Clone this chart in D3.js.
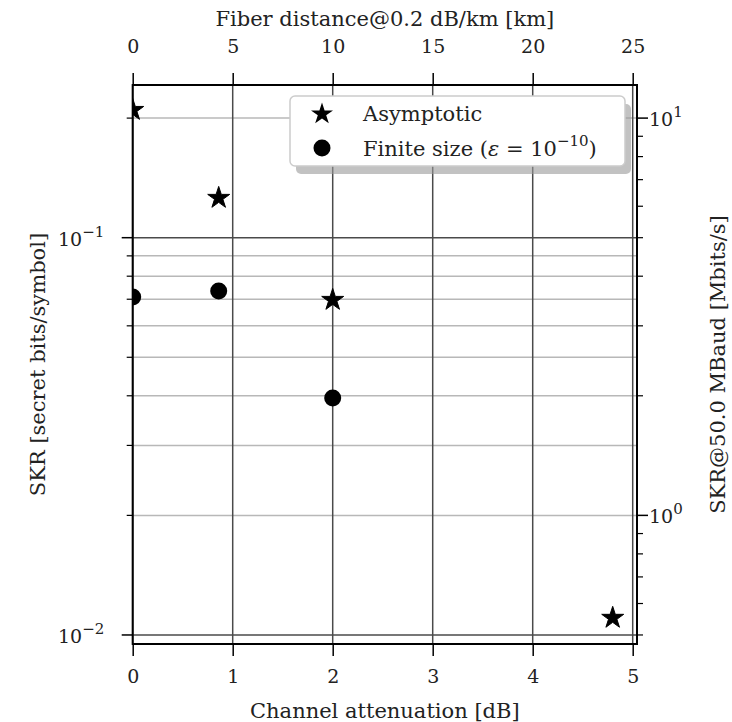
<!DOCTYPE html>
<html>
<head>
<meta charset="utf-8">
<script src="https://cdn.jsdelivr.net/npm/d3@7"></script>
<style>
  body { margin: 0; background: #fff; }
  text { font-family: "DejaVu Serif", serif; fill: #222; }
</style>
</head>
<body>
<div id="chart"></div>
<script>
// attenuation in dB, SKR in secret bits/symbol
const asymAtt = [0, 0.86, 2.0, 4.80];
const asymSkr = [0.2096, 0.1259, 0.0697, 0.01104];
const finiteAtt = [0, 0.86, 2.0];
const finiteSkr = [0.0709, 0.0734, 0.0395];

const xTicks = [0, 1, 2, 3, 4, 5];
const topTicks = [0, 5, 10, 15, 20, 25];
const leftMajor = [0.01, 0.1];
const leftMinor = [0.02, 0.03, 0.04, 0.05, 0.06, 0.07, 0.08, 0.09, 0.2];
const rightMajor = [1, 10];
const rightMinor = [0.5, 0.6, 0.7, 0.8, 0.9, 2, 3, 4, 5, 6, 7, 8, 9];

const baud = 50.0;      // MBaud
const dbPerKm = 0.2;

const W = 732, H = 722;
const pL = 132.7, pR = 637, pT = 85, pB = 644;
const yLo = 0.00949, yHi = 0.2423;

const svg = d3.select("#chart").append("svg")
    .attr("width", W).attr("height", H);

svg.append("rect").attr("width", W).attr("height", H).attr("fill", "#fff");

const x = d3.scaleLinear().domain([0, 5.043]).range([pL, pR]);
const xTop = d3.scaleLinear().domain([0, 5.043 / dbPerKm]).range([pL, pR]);
const y = d3.scaleLog().domain([yLo, yHi]).range([pB, pT]);
const yR = d3.scaleLog().domain([yLo * baud, yHi * baud]).range([pB, pT]);

svg.append("defs").append("clipPath").attr("id", "plotclip")
  .append("rect")
    .attr("x", pL).attr("y", pT)
    .attr("width", pR - pL).attr("height", pB - pT);

// grid
const grid = svg.append("g");
grid.selectAll(".hmin").data(leftMinor).enter().append("line")
    .attr("x1", pL).attr("x2", pR)
    .attr("y1", d => y(d)).attr("y2", d => y(d))
    .attr("stroke", "#b8b8b8").attr("stroke-width", 1.5);
grid.selectAll(".hmaj").data(leftMajor).enter().append("line")
    .attr("x1", pL).attr("x2", pR)
    .attr("y1", d => y(d)).attr("y2", d => y(d))
    .attr("stroke", "#4a4a4a").attr("stroke-width", 1.5);
grid.selectAll(".v").data(xTicks).enter().append("line")
    .attr("x1", d => x(d)).attr("x2", d => x(d))
    .attr("y1", pT).attr("y2", pB)
    .attr("stroke", "#4a4a4a").attr("stroke-width", 1.5);

// markers
const star = d3.symbol().type(d3.symbolStar).size(150);
const marks = svg.append("g").attr("clip-path", "url(#plotclip)");
marks.selectAll(".fin").data(finiteAtt).enter().append("circle")
    .attr("cx", d => x(d))
    .attr("cy", (d, i) => y(finiteSkr[i]))
    .attr("r", 8.5).attr("fill", "#000");
marks.selectAll(".asy").data(asymAtt).enter().append("path")
    .attr("d", star)
    .attr("transform", (d, i) => `translate(${x(d)},${y(asymSkr[i])})`)
    .attr("fill", "#000").attr("stroke", "#000").attr("stroke-width", 1);

// axes
const fmtTick = g => {
  g.select(".domain").remove();
  g.selectAll("line").attr("stroke", "#000").attr("stroke-width", 1.5);
  g.selectAll("text").style("font-family", "DejaVu Serif").style("font-size", "19px").attr("fill", "#222");
};

svg.append("g")
    .attr("transform", `translate(0,${pB})`)
    .call(d3.axisBottom(x).tickValues(xTicks).tickFormat(d3.format("d")).tickSize(12).tickPadding(14))
    .call(fmtTick);

svg.append("g")
    .attr("transform", `translate(0,${pT})`)
    .call(d3.axisTop(xTop).tickValues(topTicks).tickFormat(d3.format("d")).tickSize(12).tickPadding(20))
    .call(fmtTick);

// 10^n labels
const sup = (sel, base, ex) => {
  sel.text(base);
  sel.append("tspan").attr("dy", -9).style("font-size", "15px").text(ex);
};

const yl = svg.append("g");
yl.selectAll(".mn").data(leftMinor).enter().append("line")
    .attr("x1", pL - 6).attr("x2", pL)
    .attr("y1", d => y(d)).attr("y2", d => y(d))
    .attr("stroke", "#000").attr("stroke-width", 1.2);
yl.selectAll(".mj").data(leftMajor).enter().append("line")
    .attr("x1", pL - 11).attr("x2", pL)
    .attr("y1", d => y(d)).attr("y2", d => y(d))
    .attr("stroke", "#000").attr("stroke-width", 1.5);
yl.selectAll(".lb").data(leftMajor).enter().append("text")
    .attr("x", 58).attr("y", d => y(d) + 8)
    .style("font-size", "19px")
    .each(function(d) { sup(d3.select(this), "10", "\u2212" + (-Math.round(Math.log10(d)))); });

const yr = svg.append("g");
yr.selectAll(".mn").data(rightMinor).enter().append("line")
    .attr("x1", pR).attr("x2", pR + 6)
    .attr("y1", d => yR(d)).attr("y2", d => yR(d))
    .attr("stroke", "#000").attr("stroke-width", 1.2);
yr.selectAll(".mj").data(rightMajor).enter().append("line")
    .attr("x1", pR).attr("x2", pR + 11)
    .attr("y1", d => yR(d)).attr("y2", d => yR(d))
    .attr("stroke", "#000").attr("stroke-width", 1.5);
yr.selectAll(".lb").data(rightMajor).enter().append("text")
    .attr("x", pR + 12).attr("y", d => yR(d) + 8)
    .style("font-size", "19px")
    .each(function(d) { sup(d3.select(this), "10", String(Math.round(Math.log10(d)))); });

// spines
svg.append("rect")
    .attr("x", pL).attr("y", pT)
    .attr("width", pR - pL).attr("height", pB - pT)
    .attr("fill", "none").attr("stroke", "#000").attr("stroke-width", 2);

// legend
const lg = svg.append("g");
lg.append("rect")
    .attr("x", 296).attr("y", 104).attr("width", 335).attr("height", 70)
    .attr("rx", 5).attr("fill", "#999").attr("opacity", 0.6);
lg.append("rect")
    .attr("x", 290).attr("y", 96).attr("width", 335).attr("height", 70)
    .attr("rx", 5).attr("fill", "#fff").attr("stroke", "#ccc").attr("stroke-width", 1.5);
lg.append("path").attr("d", star)
    .attr("transform", "translate(322,114)").attr("fill", "#000");
lg.append("circle").attr("cx", 322).attr("cy", 148).attr("r", 8.5).attr("fill", "#000");
lg.append("text").attr("x", 363).attr("y", 121).style("font-size", "21px").text("Asymptotic");
const ft = lg.append("text").attr("x", 363).attr("y", 156).style("font-size", "21px");
ft.append("tspan").text("Finite size (");
ft.append("tspan").style("font-style", "italic").text("\u03b5");
ft.append("tspan").text(" = 10");
ft.append("tspan").attr("dy", -10).style("font-size", "15px").text("\u221210");
ft.append("tspan").attr("dy", 10).text(")");

// axis titles
svg.append("text").attr("x", (pL + pR) / 2).attr("y", 718)
    .attr("text-anchor", "middle").style("font-size", "21px")
    .text("Channel attenuation [dB]");
svg.append("text").attr("x", (pL + pR) / 2).attr("y", 26)
    .attr("text-anchor", "middle").style("font-size", "21px")
    .text("Fiber distance@0.2 dB/km [km]");
svg.append("text")
    .attr("transform", `translate(45,${(pT + pB) / 2}) rotate(-90)`)
    .attr("text-anchor", "middle").style("font-size", "21px")
    .text("SKR [secret bits/symbol]");
svg.append("text")
    .attr("transform", `translate(725,${(pT + pB) / 2}) rotate(-90)`)
    .attr("text-anchor", "middle").style("font-size", "21px")
    .text("SKR@50.0 MBaud [Mbits/s]");
</script>
</body>
</html>
